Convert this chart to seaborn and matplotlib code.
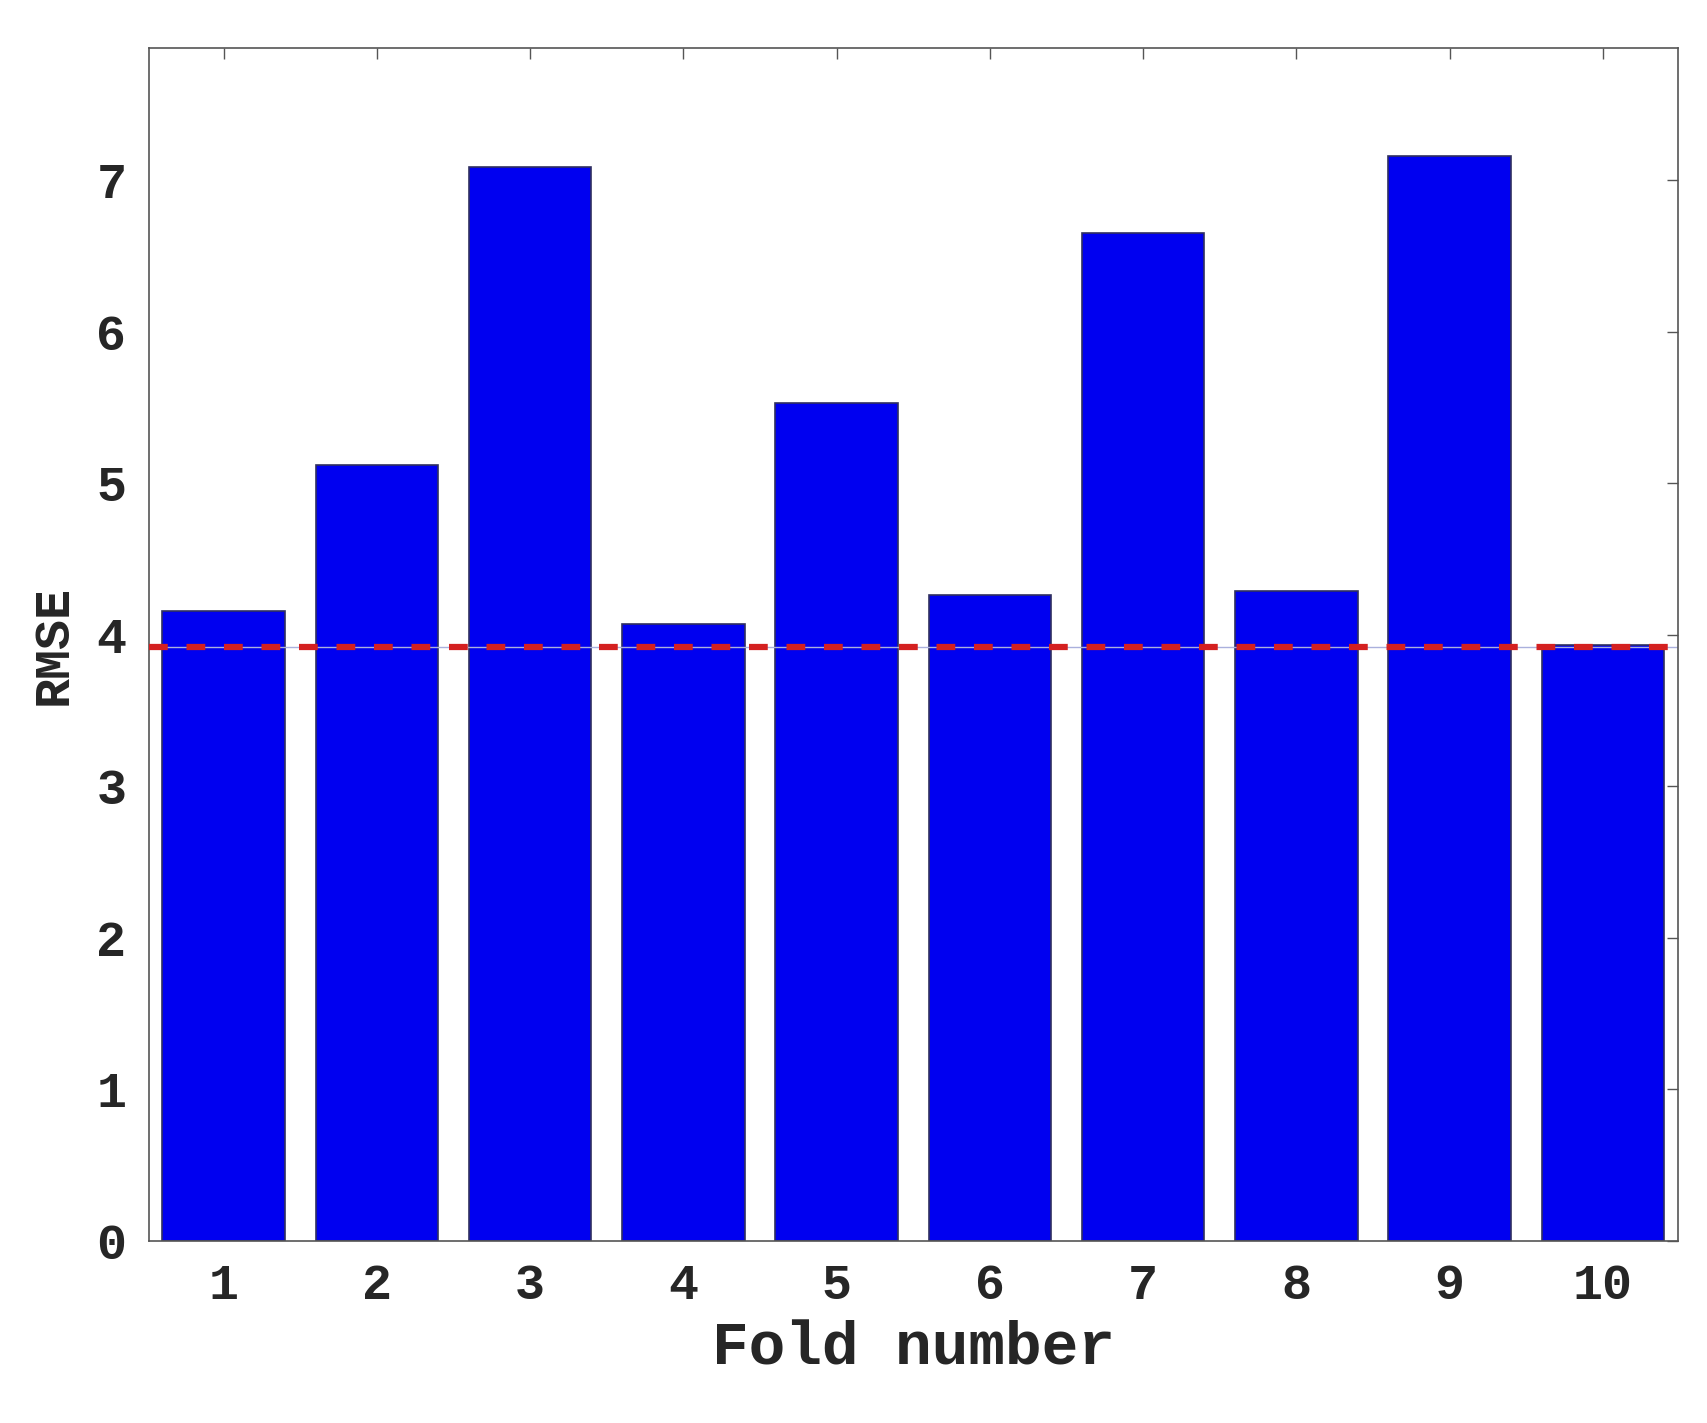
import matplotlib
matplotlib.use("Agg")
import matplotlib.pyplot as plt
import seaborn as sns
import pandas as pd

# values
folds = ["1", "2", "3", "4", "5", "6", "7", "8", "9", "10"]
rmse = [4.16, 5.12, 7.09, 4.07, 5.53, 4.26, 6.65, 4.29, 7.16, 3.93]
mean_rmse = 3.92

sns.set_style("white")
plt.rcParams['font.family'] = ['Liberation Mono', 'DejaVu Sans Mono']
plt.rcParams['font.weight'] = 'bold'

df = pd.DataFrame({"fold": folds, "rmse": rmse})

fig = plt.figure(figsize=(17.07, 14.23), dpi=100)
ax = fig.add_axes([0.087, 0.128, 0.896, 0.838])
sns.barplot(data=df, x="fold", y="rmse", color="#0000f0", saturation=1, width=0.8,
            edgecolor="#303060", linewidth=1.2, ax=ax)
ax.axhline(mean_rmse, color="#d42020", linestyle=(0, (3, 3)), linewidth=4.5, zorder=3)
ax.axhline(mean_rmse, color="#aab0dd", linewidth=1, zorder=2.5)

ax.set_xlim(-0.49, 9.49)
ax.set_ylim(0, 7.87)
ax.set_yticks(range(8))
ax.set_xlabel("Fold number", fontsize=44, fontweight='bold', labelpad=8)
ax.set_ylabel("RMSE", fontsize=36, fontweight='bold', labelpad=14)
ax.tick_params(axis='both', direction='in', length=8, width=1, color='#555555',
               labelsize=36, top=True, right=True, pad=16)
for s in ax.spines.values():
    s.set_color('#555555')
    s.set_linewidth(1.2)

fig.savefig("out.png", dpi=100)
